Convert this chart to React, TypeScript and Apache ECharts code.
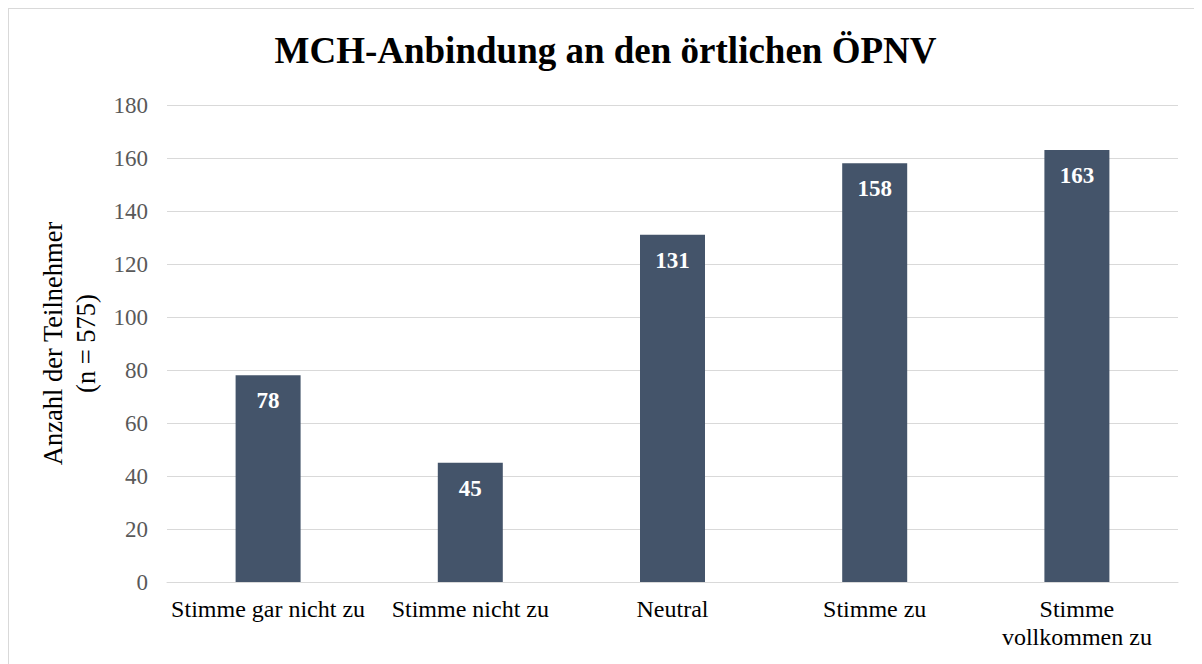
import React, { useEffect, useRef } from "react";
import * as echarts from "echarts";

const categories = [
  "Stimme gar nicht zu",
  "Stimme nicht zu",
  "Neutral",
  "Stimme zu",
  "Stimme\nvollkommen zu",
];
const values = [78, 45, 131, 158, 163];
const titleText = "MCH-Anbindung an den örtlichen ÖPNV";
const yName = "Anzahl der Teilnehmer\n(n = 575)";

const FONT = '"Liberation Serif", "Times New Roman", serif';

export default function App() {
  const ref = useRef<HTMLDivElement>(null);
  useEffect(() => {
    if (!ref.current) return;
    const chart = echarts.init(ref.current, null, { renderer: "svg" });
    chart.setOption({
      animation: false,
      backgroundColor: "#ffffff",
      title: {
        text: titleText,
        left: "center",
        top: 18,
        textStyle: {
          fontFamily: FONT,
          fontSize: 37,
          fontWeight: "bold",
          color: "#000000",
        },
      },
      grid: { left: 158, right: 24, top: 96, bottom: 82, containLabel: false },
      xAxis: {
        type: "category",
        data: categories,
        axisLine: { show: true, lineStyle: { color: "#d9d9d9", width: 1 } },
        axisTick: { show: false },
        axisLabel: {
          fontFamily: FONT,
          fontSize: 24,
          lineHeight: 28,
          color: "#000000",
          margin: 13,
          interval: 0,
        },
      },
      yAxis: {
        type: "value",
        min: 0,
        max: 180,
        interval: 20,
        name: yName,
        nameLocation: "middle",
        nameGap: 52,
        nameTextStyle: {
          fontFamily: FONT,
          fontSize: 26.5,
          lineHeight: 33,
          color: "#000000",
          align: "center",
        },
        axisLine: { show: false },
        axisTick: { show: false },
        splitLine: { lineStyle: { color: "#d9d9d9", width: 1 } },
        axisLabel: {
          fontFamily: FONT,
          fontSize: 23,
          color: "#595959",
          margin: 19,
        },
      },
      series: [
        {
          type: "bar",
          data: values,
          barWidth: 65,
          itemStyle: { color: "#44546A" },
          label: {
            show: true,
            position: "insideTop",
            distance: 14,
            fontFamily: FONT,
            fontSize: 23,
            fontWeight: "bold",
            color: "#ffffff",
          },
        },
      ],
    });
    return () => chart.dispose();
  }, []);
  return (
    <div
      style={{
        width: 1194,
        height: 656,
        borderTop: "1px solid #d9d9d9",
        borderLeft: "1px solid #d9d9d9",
        boxSizing: "border-box",
        overflow: "hidden",
      }}
    >
      <div ref={ref} style={{ width: 1193, height: 655 }} />
    </div>
  );
}
